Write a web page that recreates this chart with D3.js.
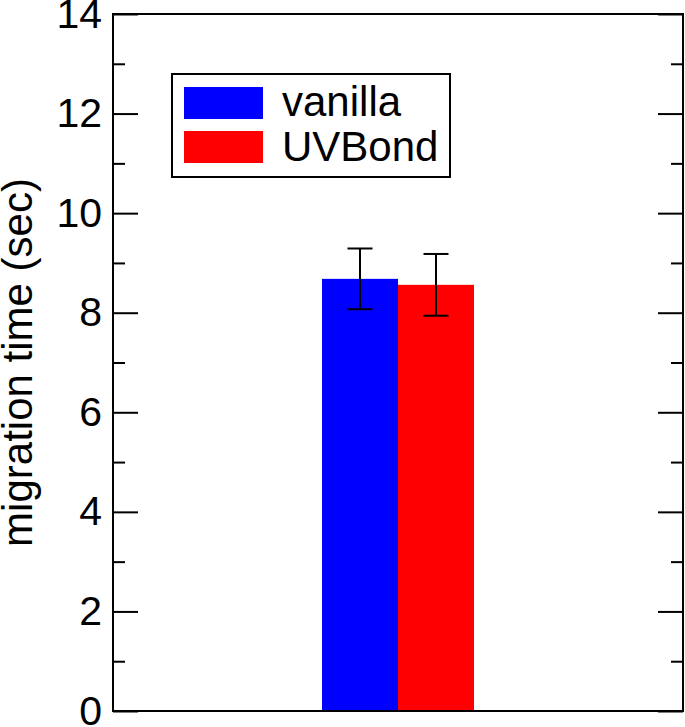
<!DOCTYPE html>
<html>
<head>
<meta charset="utf-8">
<script src="https://cdn.jsdelivr.net/npm/d3@7"></script>
<style>
  body { margin: 0; background: #fff; }
  svg text { font-family: "Liberation Sans", Arial, Helvetica, sans-serif; }
</style>
</head>
<body>
<div id="chart"></div>
<script>

// data
var groups = ["run"];
var series = ["vanilla", "UVBond"];
var means = [8.68, 8.56];
var errs = [0.61, 0.62];
var colors = ["#0000ff", "#ff0000"];
var majorTicks = [0, 2, 4, 6, 8, 10, 12, 14];
var minorTicks = [1, 3, 5, 7, 9, 11, 13];
var yLabel = "migration time (sec)";

function main() {

    // set the dimensions and margins of the graph
    var margin = {top: 14, right: 2, bottom: 16, left: 113},
        width = 685 - margin.left - margin.right,
        height = 727 - margin.top - margin.bottom;

    var svg = d3.select("#chart")
        .append("svg")
        .attr("width", 685)
        .attr("height", 727)
        .append("g")
        .attr("transform", "translate(" + margin.left + "," + margin.top + ")");

    var y = d3.scaleLinear().domain([0, 14]).range([height, 0]);

    // one group in the middle, two bars side by side
    var x0 = d3.scaleBand().domain(groups).range([0, width])
        .paddingInner(0).paddingOuter(1.375);
    var x1 = d3.scaleBand().domain(series).range([0, x0.bandwidth()]);

    var rows = series.map(function (s, i) {
        return {name: s, value: means[i], err: errs[i], color: colors[i]};
    });

    // bars
    var bars = svg.append("g")
        .attr("transform", "translate(" + x0(groups[0]) + ",0)");
    bars.selectAll("rect")
        .data(rows)
        .join("rect")
        .attr("x", function (d) { return x1(d.name); })
        .attr("y", function (d) { return y(d.value); })
        .attr("width", x1.bandwidth())
        .attr("height", function (d) { return height - y(d.value); })
        .style("fill", function (d) { return d.color; });

    // error bars
    var capW = 12.5;
    var eb = bars.selectAll(".err")
        .data(rows)
        .join("g")
        .attr("class", "err")
        .attr("transform", function (d) {
            return "translate(" + (x1(d.name) + x1.bandwidth() / 2) + ",0)";
        })
        .style("stroke", "#000")
        .style("stroke-width", "2px");
    eb.append("line")
        .attr("y1", function (d) { return y(d.value + d.err); })
        .attr("y2", function (d) { return y(d.value - d.err); });
    eb.append("line")
        .attr("x1", -capW).attr("x2", capW)
        .attr("y1", function (d) { return y(d.value + d.err); })
        .attr("y2", function (d) { return y(d.value + d.err); });
    eb.append("line")
        .attr("x1", -capW).attr("x2", capW)
        .attr("y1", function (d) { return y(d.value - d.err); })
        .attr("y2", function (d) { return y(d.value - d.err); });

    // left axis, ticks pointing inward
    var left = svg.append("g")
        .call(d3.axisLeft(y).tickValues(majorTicks).tickSizeInner(-25)
            .tickSizeOuter(0).tickPadding(11).tickFormat(d3.format("d")));
    left.select(".domain").remove();
    left.selectAll("text").attr("font-size", "41px").attr("fill", "#000");

    var leftMinor = svg.append("g")
        .call(d3.axisLeft(y).tickValues(minorTicks).tickSizeInner(-12)
            .tickSizeOuter(0).tickFormat(""));
    leftMinor.select(".domain").remove();

    // right axis, no labels
    var right = svg.append("g")
        .attr("transform", "translate(" + width + ",0)")
        .call(d3.axisRight(y).tickValues(majorTicks).tickSizeInner(-25)
            .tickSizeOuter(0).tickFormat(""));
    right.select(".domain").remove();
    var rightMinor = svg.append("g")
        .attr("transform", "translate(" + width + ",0)")
        .call(d3.axisRight(y).tickValues(minorTicks).tickSizeInner(-12)
            .tickSizeOuter(0).tickFormat(""));
    rightMinor.select(".domain").remove();

    svg.selectAll(".tick line")
        .attr("stroke", "#000")
        .attr("stroke-width", 2);

    // frame
    svg.append("rect")
        .attr("width", width)
        .attr("height", height)
        .style("fill", "none")
        .style("stroke", "#000")
        .style("stroke-width", "2px");

    // y label
    svg.append("text")
        .attr("transform", "rotate(-90)")
        .attr("x", -height / 2)
        .attr("y", -81)
        .attr("text-anchor", "middle")
        .attr("font-size", "42px")
        .text(yLabel);

    // legend
    var legend = svg.append("g")
        .attr("transform", "translate(59,60)");
    legend.append("rect")
        .attr("width", 278)
        .attr("height", 103)
        .style("fill", "#fff")
        .style("stroke", "#000")
        .style("stroke-width", "2px");
    legend.selectAll(".sw")
        .data(rows)
        .join("rect")
        .attr("class", "sw")
        .attr("x", 12)
        .attr("y", function (d, i) { return 13 + i * 44; })
        .attr("width", 79)
        .attr("height", 32)
        .style("fill", function (d) { return d.color; });
    legend.selectAll(".lab")
        .data(rows)
        .join("text")
        .attr("class", "lab")
        .attr("x", 110)
        .attr("y", function (d, i) { return 42 + i * 45; })
        .attr("font-size", "42px")
        .text(function (d) { return d.name; });
}

main()
</script>
</body>
</html>
